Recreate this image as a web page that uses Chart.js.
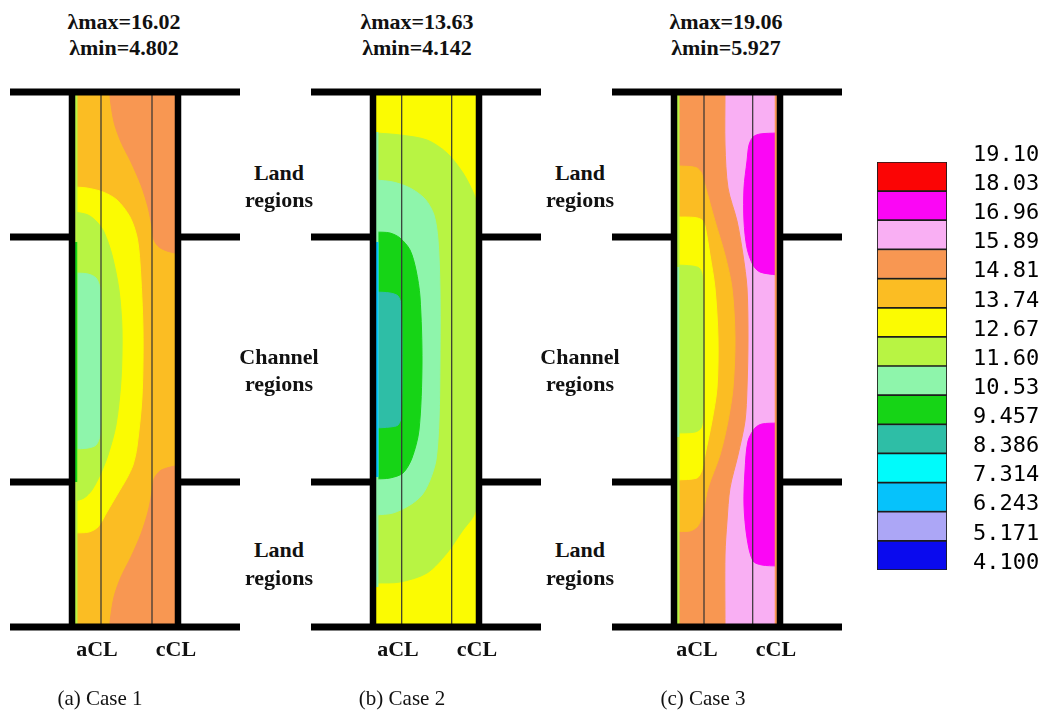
<!DOCTYPE html>
<html>
<head>
<meta charset="utf-8">
<script src="https://cdn.jsdelivr.net/npm/chart.js@4.4.1/dist/chart.umd.min.js"></script>
<style>
  html, body { margin: 0; padding: 0; background: #fff; }
  #stage { position: relative; width: 1047px; height: 710px; overflow: hidden; }
  #stage canvas { position: absolute; }
  .lbl { position: absolute; transform: translate(-50%, -50%); white-space: nowrap; text-align: center;
         font-family: "Liberation Serif", "DejaVu Serif", serif; color: #111; }
  .b { font-weight: bold; font-size: 22px; line-height: 27px; }
  .cap { font-size: 21px; line-height: 24px; }
</style>
</head>
<body>
<div id="stage"></div>
<script>
// ── Colour scale (lambda) ──
const LEVELS = [4.100, 5.171, 6.243, 7.314, 8.386, 9.457, 10.53, 11.60, 12.67, 13.74, 14.81, 15.89, 16.96, 18.03, 19.10];
const LEVEL_LABELS = ["4.100", "5.171", "6.243", "7.314", "8.386", "9.457", "10.53", "11.60",
                      "12.67", "13.74", "14.81", "15.89", "16.96", "18.03", "19.10"];
const BAND_COLORS = ["#0a0aee", "#aca6f6", "#06c2fb", "#00fbfb", "#2ebea6", "#16d416", "#8ef5ab",
                     "#b8f443", "#fbfb02", "#fbbd23", "#f89752", "#f9aff3", "#fb06f5", "#fb0505"];

const CASE_NAMES = ["(a) Case 1", "(b) Case 2", "(c) Case 3"];
const LAMBDA_MAX = ["16.02", "13.63", "19.06"];
const LAMBDA_MIN = ["4.802", "4.142", "5.927"];

// ── Contour boundaries, x = 0..100 across the membrane strip, y = 0..535 from top rib ──

// Case 1
const C1_FULL       = [[100, 0], [100, 535]];
const C1_ORANGE_TOP = [[35, 0], [35, 5], [39, 30], [46, 50], [56, 70], [66, 93], [73, 115], [77, 135],
                       [79, 148], [84, 155], [92, 159], [100, 161]];
const C1_ORANGE_BOT = [[100, 374], [92, 376], [85, 379], [79, 387], [77, 400], [73, 420], [66, 442],
                       [56, 465], [46, 485], [39, 505], [35, 530], [35, 535]];
const C1_YELLOW     = [[0, 95], [12, 96], [28, 100], [42, 108], [55, 125], [62, 145], [65, 171], [68, 238],
                       [67, 305], [62, 355], [58, 373], [52, 386], [42, 403], [32, 420], [23, 435], [14, 440], [0, 441]];
const C1_YGREEN     = [[0, 120], [13, 123], [22, 130], [29, 140], [37, 163], [44, 198], [47, 238], [46, 288],
                       [41, 333], [33, 363], [25, 383], [17, 398], [9, 406], [0, 409]];
const C1_AQUA       = [[0, 181], [13, 182], [21, 186], [25, 196], [26, 230], [26, 300], [25, 343], [21, 353],
                       [13, 356], [0, 357]];
const C1_EDGE       = [[1.2, 0], [1.2, 535]];
const C1_EDGE_CH    = [[1, 150], [1, 390]];

// Case 2
const C2_FULL   = [[100, 0], [100, 535]];
const C2_YGREEN = [[0, 41], [24, 43], [51, 48], [71, 61], [87, 81], [97, 100], [100, 110], [100, 415],
                   [97, 425], [87, 438], [71, 461], [51, 481], [24, 490], [0, 491]];
const C2_AQUA   = [[0, 88], [17, 90], [34, 96], [49, 107], [58, 123], [62, 148], [64, 198], [64, 268],
                   [63, 328], [60, 368], [54, 388], [46, 403], [34, 413], [17, 421], [0, 423]];
const C2_GREEN  = [[0, 140], [14, 141], [24, 146], [34, 158], [40, 178], [44, 205], [46, 271], [43, 338],
                   [36, 366], [27, 381], [14, 386], [0, 387]];
const C2_TEAL   = [[0, 200], [14, 201], [22, 204], [25, 213], [26, 270], [25, 325], [22, 333], [14, 335], [0, 336]];
const C2_EDGE   = [[1.2, 40], [1.2, 495]];
const C2_EDGE_CH = [[1.2, 150], [1.2, 385]];

// Case 3
const C3_FULL     = [[100, 0], [100, 535]];
const C3_ORANGE   = [[48, 0], [48, 53], [51, 96], [60, 129], [66, 163], [70, 196], [71, 246], [70, 296],
                     [68, 329], [61, 363], [53, 396], [50, 429], [48, 463], [48, 535]];
const C3_LORANGE  = [[0, 74], [13, 74.5], [20, 76], [24, 80], [26, 86], [28, 93], [38, 129], [48, 163],
                     [55, 196], [58, 246], [56, 296], [51, 329], [43, 363], [31, 396], [27, 416], [24, 428],
                     [20, 435], [13, 439], [0, 439.5]];
const C3_YELLOW   = [[0, 125], [18, 125.5], [25, 128], [28, 134], [33, 163], [38, 196], [41, 246], [40, 296],
                     [35, 329], [28, 363], [25, 378], [20, 386], [0, 388]];
const C3_YGREEN   = [[0, 173], [15, 174], [22, 176], [25, 182], [26, 198], [27, 258], [26, 323], [24, 336],
                     [18, 340], [0, 341]];
const C3_MAG_TOP  = [[100, 41], [83, 42], [76, 45], [72, 53], [70, 69], [67, 96], [67, 129], [70, 156],
                     [76, 173], [83, 180], [100, 183]];
const C3_MAG_BOT  = [[100, 331], [85, 332], [78, 336], [71, 349], [68, 379], [67, 413], [70, 446], [76, 469],
                     [85, 473], [100, 474]];
const C3_EDGE     = [[1.2, 0], [1.2, 535]];
const C3_EDGE_CH  = [[1, 175], [1, 345]];
const C3_EDGE_R   = [[99, 0], [99, 535]];

// Ribs / channel frame (same for every case)
const FRAME_H = [
    [[-65, 0], [165, 0]],
    [[-65, 535], [165, 535]],
    [[-65, 145], [-3, 145]], [[103, 145], [165, 145]],
    [[-65, 390], [-3, 390]], [[103, 390], [165, 390]],
];
const FRAME_V = [[[-3, -3], [-3, 538]], [[103, -3], [103, 538]]];
const CL_X = [[26, 77], [25.7, 75.7], [27, 75.7]];

// ── Layers: [band index, boundary, side the region is filled towards] ──
const CASE_LAYERS = [
    [[9, C1_FULL, "left"], [10, C1_ORANGE_TOP, "right"], [10, C1_ORANGE_BOT, "right"],
     [8, C1_YELLOW, "left"], [7, C1_YGREEN, "left"], [6, C1_AQUA, "left"]],
    [[8, C2_FULL, "left"], [7, C2_YGREEN, "left"], [6, C2_AQUA, "left"],
     [5, C2_GREEN, "left"], [4, C2_TEAL, "left"]],
    [[11, C3_FULL, "left"], [10, C3_ORANGE, "left"], [9, C3_LORANGE, "left"], [8, C3_YELLOW, "left"],
     [7, C3_YGREEN, "left"], [12, C3_MAG_TOP, "right"], [12, C3_MAG_BOT, "right"]],
];
const CASE_STRIPS = [
    [[7, C1_EDGE], [5, C1_EDGE_CH]],
    [[6, C2_EDGE], [2, C2_EDGE_CH]],
    [[7, C3_EDGE], [6, C3_EDGE_CH], [10, C3_EDGE_R]],
];

// ── Layout ──
const X_MIN = -66, X_MAX = 168, Y_MIN = -8, Y_MAX = 544;
const PANEL_X0 = [75, 376, 677];
const PANEL_Y0 = 92;
const stage = document.getElementById("stage");

function toPts(arr) {
    return arr.map(p => ({ x: p[0], y: p[1] }));
}

function lineSet(pts, color, width) {
    return { data: toPts(pts), borderColor: color, borderWidth: width, tension: 0,
             fill: false, borderCapStyle: "butt", pointRadius: 0 };
}

function buildPanel(idx) {
    const cv = document.createElement("canvas");
    cv.width = X_MAX - X_MIN;
    cv.height = Y_MAX - Y_MIN;
    cv.style.left = (PANEL_X0[idx] + X_MIN) + "px";
    cv.style.top = (PANEL_Y0 + Y_MIN) + "px";
    stage.appendChild(cv);

    const ds = [];
    CASE_LAYERS[idx].forEach(([band, pts, side]) => {
        const c = BAND_COLORS[band];
        ds.push({
            data: toPts(pts),
            fill: side === "right" ? { value: 100 } : "origin",
            backgroundColor: c, borderColor: c, borderWidth: 1,
            tension: 0.3, pointRadius: 0,
        });
    });
    CASE_STRIPS[idx].forEach(([band, pts]) => ds.push(lineSet(pts, BAND_COLORS[band], 2.5)));
    CL_X[idx].forEach(x => ds.push(lineSet([[x, 0], [x, 535]], "#333", 1.2)));
    FRAME_V.forEach(seg => ds.push(lineSet(seg, "#000", 6.5)));
    FRAME_H.forEach(seg => ds.push(lineSet(seg, "#000", 7)));

    // first pushed = painted first
    ds.forEach((d, i) => { d.order = ds.length - i; });

    new Chart(cv, {
        type: "line",
        data: { datasets: ds },
        options: {
            responsive: false, animation: false, devicePixelRatio: 1, events: [],
            indexAxis: "y",
            layout: { padding: 0 },
            plugins: { legend: { display: false }, tooltip: { enabled: false } },
            scales: {
                x: { type: "linear", min: X_MIN, max: X_MAX, display: false },
                y: { type: "linear", min: Y_MIN, max: Y_MAX, reverse: true, display: false },
            },
        },
    });
}

function buildColorbar() {
    const cv = document.createElement("canvas");
    cv.width = 170;
    cv.height = 440;
    cv.style.left = "877px";
    cv.style.top = "138px";
    stage.appendChild(cv);

    new Chart(cv, {
        type: "bar",
        data: {
            labels: [""],
            datasets: BAND_COLORS.map((c, i) => ({
                data: [[LEVELS[i], LEVELS[i + 1]]],
                backgroundColor: c, borderColor: "#1c1c1c", borderWidth: 1.2, borderSkipped: false,
                grouped: false, barPercentage: 1, categoryPercentage: 1,
            })),
        },
        options: {
            responsive: false, animation: false, devicePixelRatio: 1, events: [],
            layout: { padding: { top: 24, bottom: 8, left: 0, right: 0 } },
            plugins: { legend: { display: false }, tooltip: { enabled: false } },
            scales: {
                x: { display: false },
                y: {
                    type: "linear", min: LEVELS[0], max: LEVELS[LEVELS.length - 1], position: "right",
                    grid: { display: false, drawTicks: false }, border: { display: false },
                    afterBuildTicks: s => { s.ticks = LEVELS.map(v => ({ value: v })); },
                    afterFit: s => { s.width = 100; s.paddingTop = 0; s.paddingBottom = 0; },
                    ticks: {
                        autoSkip: false, padding: 26, labelOffset: -7, color: "#000",
                        font: { family: "DejaVu Sans Mono", size: 22 },
                        callback: (v, i) => LEVEL_LABELS[i],
                    },
                },
            },
        },
    });
}

function addText(txt, x, y, cls) {
    const d = document.createElement("div");
    d.className = "lbl " + cls;
    d.style.left = x + "px";
    d.style.top = y + "px";
    d.textContent = txt;
    stage.appendChild(d);
}

[0, 1, 2].forEach(buildPanel);
buildColorbar();

// ── Texts ──
const TITLE_X = [124, 417, 726];
const CL_TEXT_X = [[97, 176], [398, 477], [697, 776]];
const CAPTION_X = [100, 402, 703];
[0, 1, 2].forEach(i => {
    addText("\u03bbmax=" + LAMBDA_MAX[i], TITLE_X[i], 21, "b");
    addText("\u03bbmin=" + LAMBDA_MIN[i], TITLE_X[i], 47, "b");
    addText("aCL", CL_TEXT_X[i][0], 648, "b");
    addText("cCL", CL_TEXT_X[i][1], 648, "b");
    addText(CASE_NAMES[i], CAPTION_X[i], 698, "cap");
});
[279, 580].forEach(x => {
    addText("Land", x, 172, "b");
    addText("regions", x, 199, "b");
    addText("Channel", x, 356, "b");
    addText("regions", x, 383, "b");
    addText("Land", x, 549, "b");
    addText("regions", x, 577, "b");
});
</script>
</body>
</html>
